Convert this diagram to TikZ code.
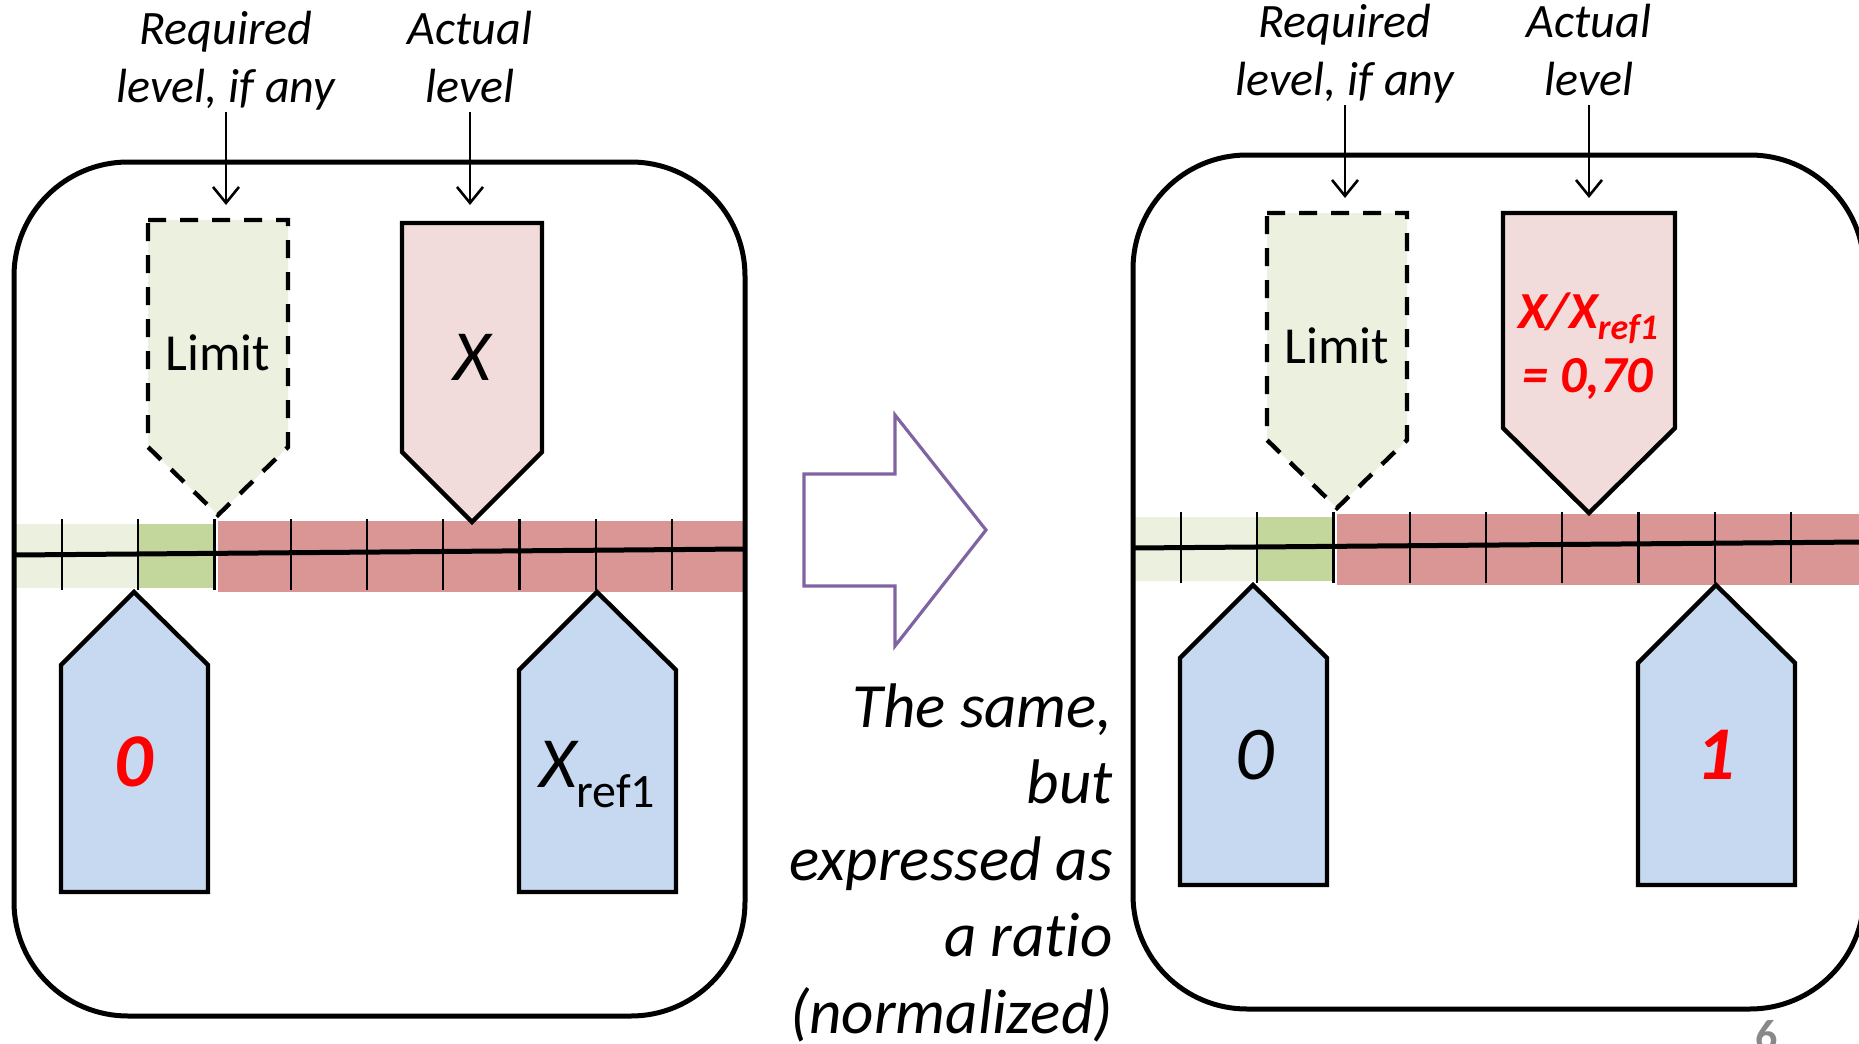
\documentclass[tikz,border=0pt]{standalone}
\usepackage{fontspec}
\setmainfont{Carlito}[Ligatures=NoCommon]
\usetikzlibrary{arrows.meta}
\definecolor{lgreen}{HTML}{EBF1DE}
\definecolor{dgreen}{HTML}{C3D69B}
\definecolor{barred}{HTML}{D99694}
\definecolor{pinkfill}{HTML}{F2DCDB}
\definecolor{bluefill}{HTML}{C6D9F1}
\definecolor{purp}{HTML}{8064A2}
\definecolor{pgnum}{HTML}{898989}
\newcommand{\panelparts}{%
  \fill[lgreen] (16,524) rectangle (138,588);
  \fill[dgreen] (138,524) rectangle (215,588);
  \fill[barred] (218,521) rectangle (744,592);
  \foreach \k in {0,...,8} \draw[tickline] ({62+76.25*\k},519) -- ({62+76.25*\k},590);
  \draw[mainline] (14,555) -- (745,549);
  \draw[panelbox] (14,162) rectangle (745,1016);
  \draw[limitbox] (148,220) -- (288,220) -- (288,447) -- (218,515) -- (148,447) -- cycle;
  \draw[bluebox] (61,892) -- (61,665) -- (134,592) -- (208,665) -- (208,892) -- cycle;
  \draw[bluebox] (519,892) -- (519,670) -- (597,592) -- (676,670) -- (676,892) -- cycle;
}
\begin{document}
\begin{tikzpicture}[x=0.5pt,y=-0.5pt,
  panelbox/.style={draw=black,line width=2.5pt,rounded corners=57pt},
  pentline/.style={draw=black,line width=2.2pt,line join=miter},
  limitbox/.style={pentline,fill=lgreen,dash pattern=on 9pt off 7pt},
  pinkbox/.style={pentline,fill=pinkfill},
  bluebox/.style={pentline,fill=bluefill},
  tickline/.style={draw=black,line width=1.1pt},
  mainline/.style={draw=black,line width=2.5pt},
  lbl/.style={font=\fontsize{24}{28.5}\selectfont\itshape,align=center,inner sep=0pt,anchor=base},
  arr/.style={line width=1.3pt,-{Straight Barb[length=8pt,width=13pt,line width=1.3pt]}},
  txt/.style={inner sep=0pt,anchor=base},
  bigarrow/.style={draw=purp,line width=1.6pt,line join=miter}]
\useasboundingbox (0,0) rectangle (1859,1044);

% ---------- left panel ----------
\begin{scope}
\panelparts
\end{scope}
\draw[pinkbox] (402,223) -- (542,223) -- (542,452) -- (472,522) -- (402,452) -- cycle;

\node[lbl] (reqL) at (226,102) {Required\\level, if any};
\node[lbl] (actL) at (470,102) {Actual\\level};
\coordinate (reqLs) at (226,112);
\coordinate (reqLe) at (226,205);
\coordinate (actLs) at (470,112);
\coordinate (actLe) at (470,205);
\draw[arr] (reqLs) -- (reqLe);
\draw[arr] (actLs) -- (actLe);

\node[txt,font=\fontsize{26}{30}\selectfont] (limL) at (218,370) {Limit};
\node[txt,font=\fontsize{36}{40}\selectfont\itshape] (xL) at (472,380) {X};
\node[txt,font=\fontsize{38}{42}\selectfont\bfseries\itshape,text=red] (zeroL) at (134,786) {0};
\node[txt] (xrefL) at (597,787) {\fontsize{36}{40}\selectfont\itshape X\raisebox{-10pt}{\fontsize{24}{28}\selectfont\upshape ref1}};

% ---------- middle ----------
\draw[bigarrow] (804,474) -- (895,474) -- (895,415) -- (986,530) -- (895,646) -- (895,586) -- (804,586) -- cycle;
\node[inner sep=0pt,anchor=base east,align=right,font=\fontsize{31.5}{38.25}\selectfont\itshape] (note) at (1113,1033)
  {The same,\\but\\expressed as\\a ratio\\(normalized)};

% ---------- right panel ----------
\begin{scope}[shift={(1119,-7)}]
\panelparts
\end{scope}
\draw[pinkbox] (1503,213) -- (1675,213) -- (1675,428) -- (1589,513) -- (1503,428) -- cycle;

\node[lbl] (reqR) at (1345,95) {Required\\level, if any};
\node[lbl] (actR) at (1589,95) {Actual\\level};
\coordinate (reqRs) at (1345,105);
\coordinate (reqRe) at (1345,198);
\coordinate (actRs) at (1589,105);
\coordinate (actRe) at (1589,198);
\draw[arr] (reqRs) -- (reqRe);
\draw[arr] (actRs) -- (actRe);

\node[txt,font=\fontsize{26}{30}\selectfont] (limR) at (1337,363) {Limit};
\node[txt,align=center,text=red,font=\fontsize{26}{32}\selectfont\bfseries\itshape] (ratioR) at (1588,392)
  {X/X\raisebox{-5.5pt}{\fontsize{18}{20}\selectfont ref1}\\= 0,70};
\node[txt,font=\fontsize{38}{42}\selectfont\itshape] (zeroR) at (1255,779) {0};
\node[txt,font=\fontsize{38}{42}\selectfont\bfseries\itshape,text=red] (oneR) at (1716,779) {1};

\node[txt,font=\fontsize{22}{26}\selectfont\bfseries,text=pgnum] (pg) at (1767,1050) {6};
\end{tikzpicture}
\end{document}
